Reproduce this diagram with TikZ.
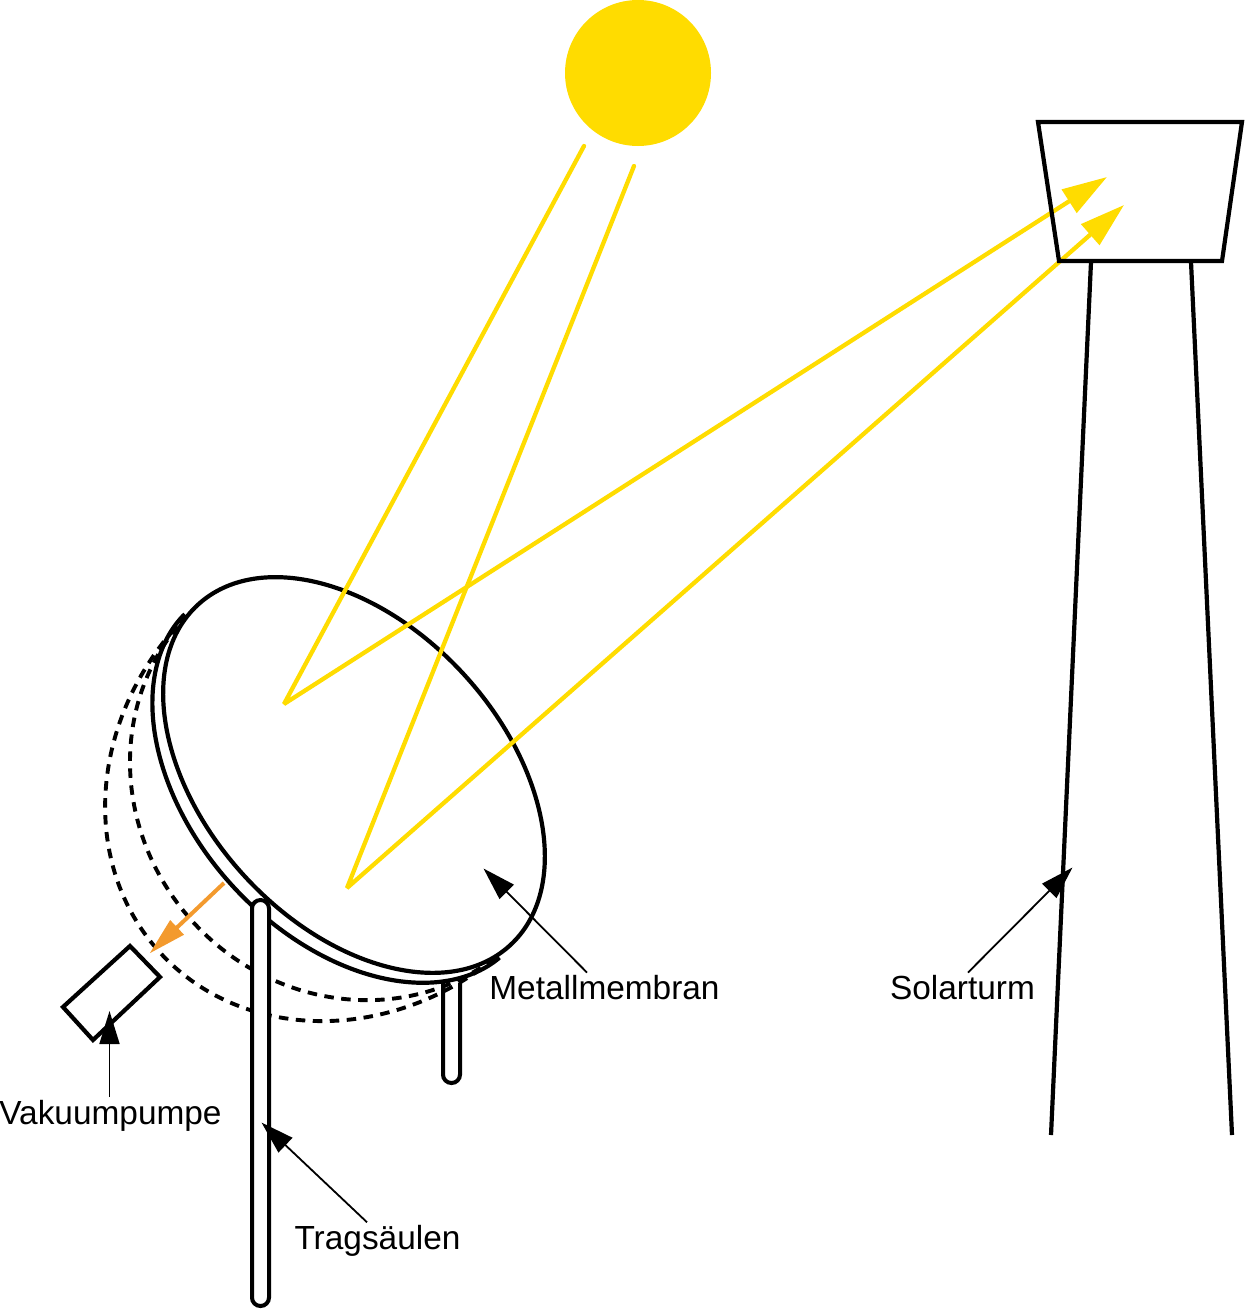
\documentclass[tikz,border=0pt]{standalone}
\usepackage{fontspec}
\setmainfont{Liberation Sans}
\usetikzlibrary{arrows.meta}
\definecolor{sunyellow}{HTML}{FFDC00}
\definecolor{pumporange}{HTML}{F39A2E}
\tikzset{
  thick line/.style={draw=black,line width=4.2pt},
  dash line/.style={draw=black,line width=3.9pt,dash pattern=on 9.5pt off 7.5pt},
  ray/.style={draw=sunyellow,line width=4.3pt,line join=bevel,line cap=round},
  rayhead/.style={-{Triangle[length=45pt,width=27pt]}},
  leader/.style={draw=black,line width=1.8pt,-{Triangle[length=33pt,width=20pt]}},
  lbl/.style={font=\fontsize{33.4}{36}\selectfont,inner sep=0pt,anchor=center},
  pole/.style={draw=black,fill=white,line width=4pt,rounded corners=8.4pt},
  declare function={
    rimd(\t)=15.5*pow(abs(sin(\t)),0.7)/sqrt(0.416*cos(\t)*cos(\t)+sin(\t)*sin(\t));
  },
}
\begin{document}
\begin{tikzpicture}[x=1pt,y=-1pt]
\useasboundingbox (0,0) rectangle (1245,1309);
% sun
\fill[sunyellow] (638,73) circle (73pt);
% short pole
\draw[pole,fill=none] (443,983) -- (443,1083) -- (460,1083) -- (460,983);
% dish
\begin{scope}[shift={(354,775)},rotate=-47.5,x=1pt,y=1pt]
  \draw[dash line] (-5.3:231 and 218) arc[start angle=-5.3,end angle=-175,x radius=231pt,y radius=218pt];
  \draw[dash line] (-4.4:231 and 263) arc[start angle=-4.4,end angle=-175.6,x radius=231pt,y radius=263pt];
  \draw[thick line] plot[domain=-6:-174,samples=140]
    ({231*cos(\x)+rimd(\x)*0.645*cos(\x)},
     {149*sin(\x)+rimd(\x)*sin(\x)});
  \draw[thick line] (0,0) ellipse[x radius=231pt,y radius=149pt];
\end{scope}
% long pole
\draw[pole] (252,1200) -- (252,900) -- (269,900) -- (269,1306) -- (252,1306) -- (252,1200);
% pump
\draw[thick line,line join=miter] (130,946) -- (160,977) -- (93,1040) -- (63,1007) -- cycle;
% rays
\coordinate (rayTipA) at (1107,177);
\coordinate (rayTipB) at (1124,205);
\draw[ray,rayhead] (584,146) -- (284,704) -- (rayTipA);
\draw[ray,rayhead] (634,166) -- (347,888) -- (rayTipB);
\draw[draw=pumporange,line width=4pt,-{Triangle[length=38pt,width=19pt]}] (224,883) -- (149.5,953.5);
% tower
\draw[thick line,line join=miter] (1038,122) -- (1242,122) -- (1222,261) -- (1059,261) -- cycle;
\draw[thick line] (1091,262) -- (1051,1135);
\draw[thick line] (1191,262) -- (1232,1135);
% labels
\node[lbl] (lblMetall) at (604.5,988) {Metallmembran};
\node[lbl] (lblSolar) at (962.5,988) {Solarturm};
\node[lbl] (lblPumpe) at (110.5,1116) {Vakuumpumpe};
\node[lbl] (lblTrag) at (377.5,1241) {Tragsäulen};
\coordinate (tipMetall) at (483.5,868.5);
\coordinate (tipSolar) at (1072.5,867.5);
\coordinate (tipPumpe) at (109.5,1011);
\coordinate (tipTrag) at (261.5,1122.5);
\draw[leader] ([shift={(-17.5,-3)}]lblMetall.north) -- (tipMetall);
\draw[leader] ([shift={(5.5,-3)}]lblSolar.north) -- (tipSolar);
\draw[leader] ([shift={(-1,-3)}]lblPumpe.north) -- (tipPumpe);
\draw[leader] ([shift={(-10.5,-3)}]lblTrag.north) -- (tipTrag);
\end{tikzpicture}
\end{document}
